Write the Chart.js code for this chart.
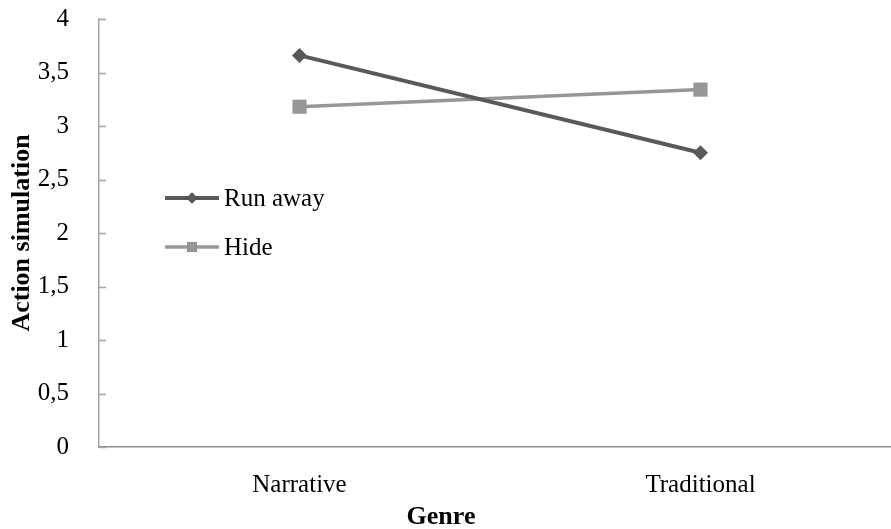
<!DOCTYPE html>
<html>
<head>
<meta charset="utf-8">
<script src="https://cdn.jsdelivr.net/npm/chart.js@4"></script>
<style>
  html, body { margin: 0; padding: 0; background: #fff; overflow: hidden; }
  #wrap { width: 891px; height: 529px; overflow: hidden; position: relative; }
  #c { display: block; }
</style>
</head>
<body>
<div id="wrap"><canvas id="c" width="911" height="529" style="width:911px;height:529px"></canvas></div>
<script>
const categories = ['Narrative', 'Traditional'];
const seriesNames = ['Run away', 'Hide'];
const runAway = [3.66, 2.75];
const hide = [3.18, 3.34];
const yTicks = { min: 0, max: 4, step: 0.5 };
const xTitle = 'Genre';
const yTitle = 'Action simulation';

const FONT = "'Liberation Serif', 'Times New Roman', serif";

const innerTicks = {
  id: 'innerTicks',
  afterDraw(chart) {
    const ctx = chart.ctx;
    const y = chart.scales.y;
    const left = chart.chartArea.left;
    ctx.save();
    ctx.strokeStyle = '#a6a6a6';
    ctx.lineWidth = 1.5;
    y.ticks.forEach((t, i) => {
      const py = Math.round(y.getPixelForTick(i)) + 0.5;
      ctx.beginPath();
      ctx.moveTo(left, py);
      ctx.lineTo(left + 7, py);
      ctx.stroke();
    });
    ctx.restore();
  }
};

const customLegend = {
  id: 'customLegend',
  afterDraw(chart) {
    const ctx = chart.ctx;
    ctx.save();
    chart.data.datasets.forEach((ds, i) => {
      const cy = 198 + i * 49;
      ctx.strokeStyle = ds.borderColor;
      ctx.lineWidth = ds.borderWidth;
      ctx.beginPath();
      ctx.moveTo(165, cy);
      ctx.lineTo(219, cy);
      ctx.stroke();
      Chart.helpers.drawPoint(ctx, {
        pointStyle: ds.pointStyle,
        radius: i === 0 ? 5.5 : 7,
        borderWidth: 0
      }, 192, cy);
      ctx.fillStyle = ds.pointBackgroundColor;
      ctx.fill();
      ctx.fillStyle = '#000';
      ctx.font = '25px ' + FONT;
      ctx.textAlign = 'left';
      ctx.textBaseline = 'middle';
      ctx.fillText(ds.label, 224, cy + 1);
    });
    ctx.restore();
  }
};

const genreTitle = {
  id: 'genreTitle',
  afterDraw(chart) {
    const ctx = chart.ctx;
    ctx.save();
    ctx.fillStyle = '#000';
    ctx.font = 'bold 26px ' + FONT;
    ctx.textAlign = 'center';
    ctx.textBaseline = 'middle';
    ctx.fillText(xTitle, 441, 517);
    ctx.restore();
  }
};

new Chart(document.getElementById('c'), {
  type: 'line',
  data: {
    labels: categories,
    datasets: [
      {
        label: seriesNames[0],
        data: runAway,
        borderColor: '#595959',
        backgroundColor: '#595959',
        pointBackgroundColor: '#595959',
        pointBorderWidth: 0,
        borderWidth: 4,
        pointStyle: 'rectRot',
        pointRadius: 7.5,
        tension: 0
      },
      {
        label: seriesNames[1],
        data: hide,
        borderColor: '#979797',
        backgroundColor: '#979797',
        pointBackgroundColor: '#979797',
        pointBorderWidth: 0,
        borderWidth: 3.5,
        pointStyle: 'rect',
        pointRadius: 10,
        tension: 0
      }
    ]
  },
  options: {
    responsive: false,
    animation: false,
    devicePixelRatio: 1,
    layout: { padding: { top: 19, right: 0, left: 0, bottom: 0 } },
    plugins: {
      legend: { display: false },
      tooltip: { enabled: false }
    },
    scales: {
      x: {
        type: 'category',
        offset: true,
        grid: { display: false },
        border: { display: true, color: '#8c8c8c', width: 1.5 },
        ticks: {
          color: '#000',
          font: { family: FONT, size: 25 },
          padding: 15,
          maxRotation: 0
        },
        afterFit(scale) {
          scale.height = 82;
          scale.paddingLeft = 0;
          scale.paddingRight = 0;
        }
      },
      y: {
        min: yTicks.min,
        max: yTicks.max,
        grid: { display: false },
        border: { display: true, color: '#a6a6a6', width: 1.5 },
        ticks: {
          stepSize: yTicks.step,
          color: '#000',
          font: { family: FONT, size: 25 },
          padding: 22,
          callback: (v) => String(v).replace('.', ',')
        },
        title: {
          display: true,
          text: yTitle,
          color: '#000',
          font: { family: FONT, size: 26, weight: 'bold' },
          padding: { top: 7, bottom: 0 }
        },
        afterFit(scale) {
          scale.width = 99;
          scale.paddingTop = 0;
          scale.paddingBottom = 0;
        }
      }
    }
  },
  plugins: [innerTicks, customLegend, genreTitle]
});
</script>
</body>
</html>
